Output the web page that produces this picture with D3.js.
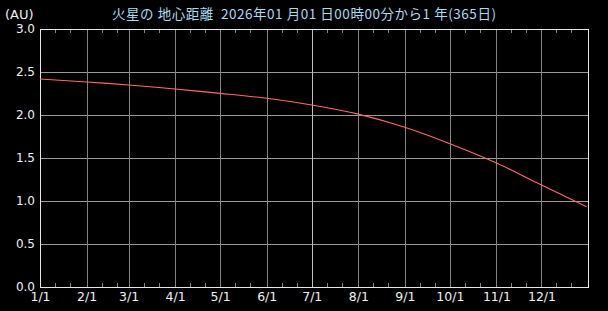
<!DOCTYPE html>
<html><head><meta charset="utf-8">
<script src="https://cdn.jsdelivr.net/npm/d3@7"></script>
<style>
html,body{margin:0;padding:0;background:#000;}
svg{display:block;}
</style></head>
<body>
<script>
// ---- data ----
const dates = ["2026-01-01","2026-02-01","2026-03-01","2026-04-01","2026-05-01","2026-06-01",
               "2026-07-01","2026-08-01","2026-09-01","2026-10-01","2026-11-01","2026-12-01","2026-12-31"];
const distanceAU = [2.419,2.384,2.349,2.302,2.252,2.194,2.116,2.010,1.857,1.666,1.442,1.186,0.934];
const monthLabels = ["1/1","2/1","3/1","4/1","5/1","6/1","7/1","8/1","9/1","10/1","11/1","12/1"];
const yTicks = [0,0.5,1.0,1.5,2.0,2.5,3.0];
const titleText = "火星の 地心距離  2026年01 月01 日00時00分から1 年(365日)";
const unitLabel = "(AU)";

const W = 608, H = 311;
const m = {left:40, right:20, top:29, bottom:24};
const svg = d3.select("body").append("svg").attr("width",W).attr("height",H)
  .style("background","#000");

const x = d3.scaleUtc()
  .domain([new Date(Date.UTC(2026,0,1)), new Date(Date.UTC(2027,0,1))])
  .range([m.left, W - m.right]);
const y = d3.scaleLinear().domain([0,3]).range([H - m.bottom, m.top]);

const monthDates = monthLabels.map((d,i)=>new Date(Date.UTC(2026,i,1)));
const minorDates = [];
monthDates.forEach((d,i)=>{ [11,21].forEach(dd=>minorDates.push(new Date(Date.UTC(2026,i,dd)))); });

const g = svg.append("g");
// horizontal grid
g.selectAll("line.hg").data(yTicks.filter(v=>v>0 && v<3)).join("line")
  .attr("x1",x.range()[0]).attr("x2",x.range()[1])
  .attr("y1",d=>Math.round(y(d))+0.5).attr("y2",d=>Math.round(y(d))+0.5)
  .attr("stroke","#9a9a9a").attr("stroke-width",1);
// vertical grid
g.selectAll("line.vg").data(monthDates.slice(1)).join("line")
  .attr("x1",d=>Math.round(x(d))+0.5).attr("x2",d=>Math.round(x(d))+0.5)
  .attr("y1",y(3)).attr("y2",y(0))
  .attr("stroke",(d,i)=>i===5?"#c0c0c0":"#858585").attr("stroke-width",1);
// minor ticks top and bottom
[[y(0),-4],[y(3),4]].forEach(([yy,len])=>{
  g.append("g").selectAll("line").data(minorDates).join("line")
    .attr("x1",d=>Math.round(x(d))+0.5).attr("x2",d=>Math.round(x(d))+0.5)
    .attr("y1",yy).attr("y2",yy+len)
    .attr("stroke","#858585").attr("stroke-width",1);
});
// frame
g.append("rect").attr("x",x.range()[0]+0.5).attr("y",Math.round(y(3))+0.5)
  .attr("width",x.range()[1]-x.range()[0]).attr("height",Math.round(y(0))-Math.round(y(3)))
  .attr("fill","none").attr("stroke","#e8e8e8").attr("stroke-width",1);

// axes labels via d3 axis
const yAxis = d3.axisLeft(y).tickValues(yTicks).tickFormat(d3.format(".1f")).tickSize(0).tickPadding(5);
const ya = svg.append("g").attr("transform",`translate(${m.left},0)`).call(yAxis);
ya.select(".domain").remove();
ya.selectAll("text").attr("fill","#f0f0f0").style("font-family","'DejaVu Sans',sans-serif").style("font-size","12px");

const xAxis = d3.axisBottom(x).tickValues(monthDates).tickFormat((d,i)=>monthLabels[i]).tickSize(0).tickPadding(5);
const xa = svg.append("g").attr("transform",`translate(0,${H - m.bottom})`).call(xAxis);
xa.select(".domain").remove();
xa.selectAll("text").attr("fill","#f0f0f0").style("font-family","'DejaVu Sans',sans-serif").style("font-size","12.5px");

// line
const data = dates.map((d,i)=>({date:new Date(d+"T00:00:00Z"), v:distanceAU[i]}));
svg.append("path").datum(data)
  .attr("d", d3.line().x(d=>x(d.date)).y(d=>y(d.v)).curve(d3.curveCatmullRom.alpha(0.5)))
  .attr("fill","none").attr("stroke","#ff6a6a").attr("stroke-width",1.1);

// title & unit
svg.append("text").attr("x",304).attr("y",19).attr("text-anchor","middle")
  .attr("fill","#a8dcf0").style("font-family","'Noto Sans CJK JP',sans-serif").style("font-size","13.5px")
  .style("white-space","pre").attr("textLength",384).attr("lengthAdjust","spacing").text(titleText);
svg.append("text").attr("x",5).attr("y",19).attr("fill","#f0f0f0")
  .style("font-family","'DejaVu Sans',sans-serif").style("font-size","13px").text(unitLabel);
</script>
</body></html>
